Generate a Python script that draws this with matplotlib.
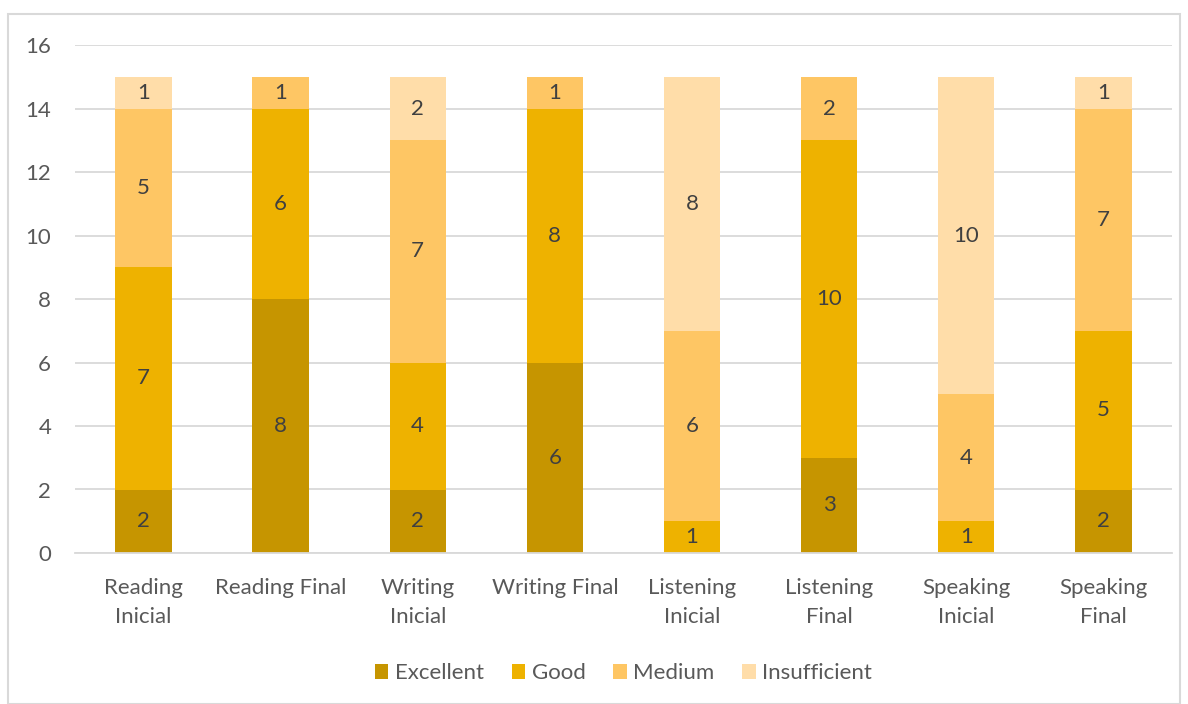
import numpy as np
import matplotlib
matplotlib.use('Agg')
import matplotlib.pyplot as plt
import matplotlib.patches as patches

categories = ["Reading\nInicial", "Reading Final", "Writing\nInicial", "Writing Final",
              "Listening\nInicial", "Listening\nFinal", "Speaking\nInicial", "Speaking\nFinal"]
excellent = [2, 8, 2, 6, 0, 3, 0, 2]
good = [7, 6, 4, 8, 1, 10, 1, 5]
medium = [5, 1, 7, 1, 6, 2, 4, 7]
insufficient = [1, 0, 2, 0, 8, 0, 10, 1]

series = [("Excellent", excellent, "#C69500"),
          ("Good", good, "#EEB200"),
          ("Medium", medium, "#FEC664"),
          ("Insufficient", insufficient, "#FFDDA9")]

text_color = "#595959"
plt.rcParams['font.family'] = ['Lato', 'DejaVu Sans']

fig = plt.figure(figsize=(11.88, 7.04), dpi=100)
ax = fig.add_axes([0.063, 0.2145, 0.9235, 0.7215])

x = np.arange(len(categories))
bottom = np.zeros(len(categories))
for name, vals, col in series:
    vals = np.array(vals, dtype=float)
    ax.bar(x, vals, 0.41, bottom=bottom, color=col, label=name, zorder=2)
    for xi, b, v in zip(x, bottom, vals):
        if v > 0:
            ax.text(xi, b + v / 2, str(int(v)), ha='center', va='center',
                    fontsize=16, color="#404040", zorder=3)
    bottom += vals

ax.set_xlim(-0.5, len(categories) - 0.5)
ax.set_ylim(0, 16)
ax.set_yticks(range(0, 17, 2))
ax.yaxis.grid(True, color="#D9D9D9", linewidth=1.3, zorder=0)
ax.set_axisbelow(True)
for s in ['top', 'right', 'left']:
    ax.spines[s].set_visible(False)
ax.spines['bottom'].set_color("#D9D9D9")
ax.spines['bottom'].set_linewidth(1.3)
ax.tick_params(axis='both', length=0, labelsize=16, labelcolor=text_color)
ax.tick_params(axis='y', pad=17)
ax.tick_params(axis='x', pad=18)
ax.set_xticks(x)
ax.set_xticklabels(categories, linespacing=1.55)

ax.legend(loc='center', bbox_to_anchor=(0.5, -0.237), ncol=4, frameon=False,
          fontsize=16, labelcolor=text_color, handlelength=0.6, handleheight=0.6,
          handletextpad=0.3, columnspacing=1.25)

fig.patches.append(patches.Rectangle((8 / 1188, 0.0), 1172 / 1188, 1 - 14 / 704 - 0.0,
                                     transform=fig.transFigure, fill=False,
                                     edgecolor="#D9D9D9", linewidth=1.5))

fig.savefig("out.png", dpi=100)
